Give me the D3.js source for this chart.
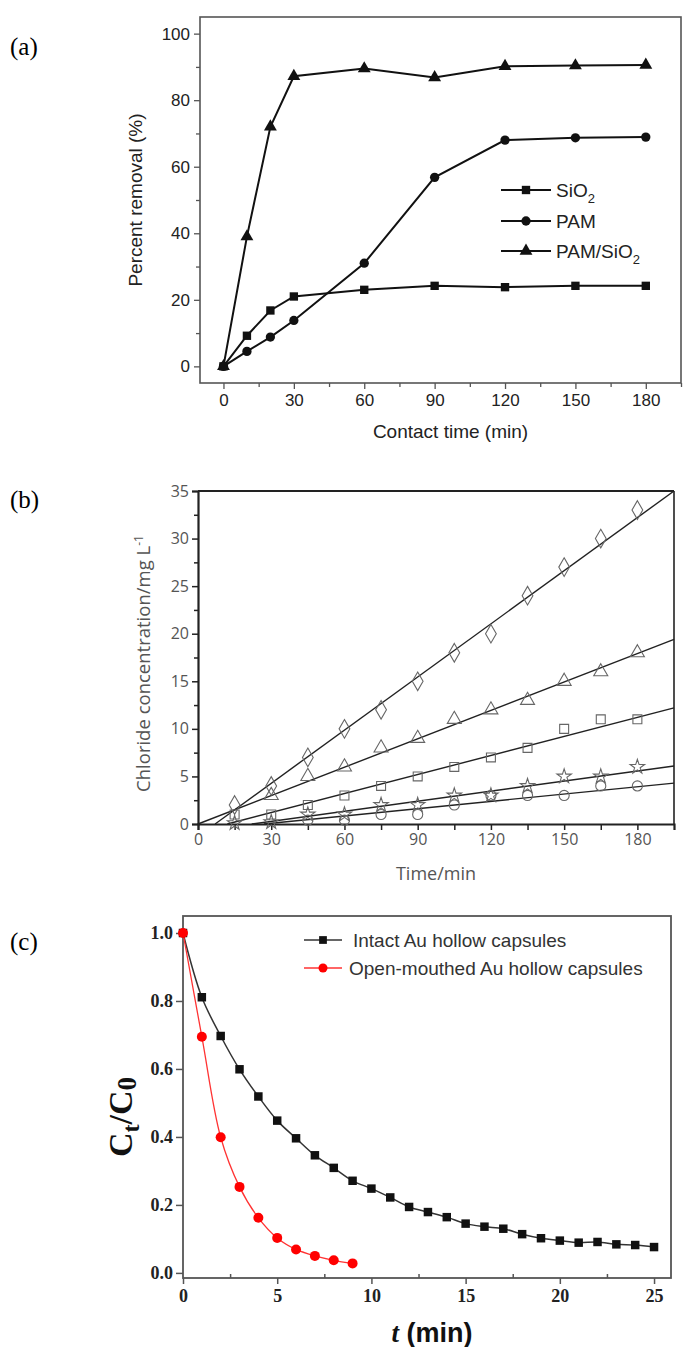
<!DOCTYPE html>
<html>
<head>
<meta charset="utf-8">
<script src="https://cdn.jsdelivr.net/npm/d3@7"></script>
<style>
  body { margin: 0; background: #fff; }
</style>
</head>
<body>
<svg id="fig" width="686" height="1347"></svg>
<script>
// ---------- data: panel (a) ----------
var timeA = [0, 10, 20, 30, 60, 90, 120, 150, 180];
var sio2A = [0, 9.2, 16.8, 21, 23, 24.2, 23.8, 24.2, 24.2];
var pamA = [0, 4.5, 8.8, 13.8, 31, 56.8, 68, 68.7, 68.9];
var pamSio2A = [0, 39, 72, 87.2, 89.5, 86.8, 90.2, 90.4, 90.6];
var xTicksA = [0, 30, 60, 90, 120, 150, 180];
var xMinorA = [15, 45, 75, 105, 135, 165, 195];
var yTicksA = [0, 20, 40, 60, 80, 100];
var yMinorA = [10, 30, 50, 70, 90];

// ---------- data: panel (b) ----------
var timeB = [15, 30, 45, 60, 75, 90, 105, 120, 135, 150, 165, 180];
var diamondB = [2, 4, 7, 10, 12, 15, 18, 20, 24, 27, 30, 33];
var triangleB = [NaN, 3, 5, 6, 8, 9, 11, 12, 13, 15, 16, 18];
var squareB = [1, 1, 2, 3, 4, 5, 6, 7, 8, 10, 11, 11];
var starB = [0.1, 0.2, 1, 1, 2, 2, 3, 3, 4, 5, 5, 6];
var circleB = [NaN, NaN, 0.4, 0.4, 1, 1, 2, 3, 3, 3, 4, 4];
// fitted lines: x where the line leaves zero, value at the right edge (t = 195)
var fitStartB = [7, 0, 12, 22, 27];
var fitEndB = [35, 19.4, 12.2, 6.1, 4.3];
var xTicksB = [0, 30, 60, 90, 120, 150, 180];
var xMinorB = [15, 45, 75, 105, 135, 165];
var yTicksB = [0, 5, 10, 15, 20, 25, 30, 35];
var yMinorB = [2.5, 7.5, 12.5, 17.5, 22.5, 27.5, 32.5];

// ---------- data: panel (c) ----------
var timeIntact = d3.range(0, 26);
var intactC = [1.0, 0.811, 0.697, 0.599, 0.519, 0.448, 0.396, 0.346, 0.309, 0.271,
               0.248, 0.222, 0.194, 0.179, 0.164, 0.145, 0.136, 0.130, 0.114, 0.102,
               0.095, 0.089, 0.091, 0.084, 0.082, 0.076];
var timeOpen = d3.range(0, 10);
var openC = [1.0, 0.695, 0.399, 0.253, 0.162, 0.103, 0.069, 0.050, 0.037, 0.028];
var xTicksC = [0, 5, 10, 15, 20, 25];
var xMinorC = [2.5, 7.5, 12.5, 17.5, 22.5];
var yTicksC = [0, 0.2, 0.4, 0.6, 0.8, 1.0];

var svg = d3.select("#fig");

function pairs(xs, ys) {
  return xs.map(function(x, i) { return [x, ys[i]]; })
           .filter(function(d) { return !isNaN(d[1]); });
}

function frame(g, x, y, color, width) {
  g.append("rect")
      .attr("x", x.range()[0])
      .attr("y", y.range()[1])
      .attr("width", x.range()[1] - x.range()[0])
      .attr("height", y.range()[0] - y.range()[1])
      .attr("fill", "none")
      .attr("stroke", color)
      .attr("stroke-width", width);
}

function noDomain(g) { g.select(".domain").remove(); }

////////// panel (a) //////////
(function() {
  var x = d3.scaleLinear().domain([-10, 195]).range([200, 681]);
  var y = d3.scaleLinear().domain([-5, 105]).range([383, 17]);
  var g = svg.append("g");
  var font = "'Liberation Sans', Arial, sans-serif";

  frame(g, x, y, "#555", 1.6);

  g.append("g")
      .attr("transform", "translate(" + x.range()[0] + ",0)")
      .call(d3.axisLeft(y).tickValues(yTicksA).tickSize(6).tickPadding(4))
      .call(noDomain);
  g.append("g")
      .attr("transform", "translate(" + x.range()[0] + ",0)")
      .call(d3.axisLeft(y).tickValues(yMinorA).tickSize(4).tickFormat(""))
      .call(noDomain);
  g.append("g")
      .attr("transform", "translate(0," + y.range()[0] + ")")
      .call(d3.axisBottom(x).tickValues(xTicksA).tickSize(6).tickPadding(5))
      .call(noDomain);
  g.append("g")
      .attr("transform", "translate(0," + y.range()[0] + ")")
      .call(d3.axisBottom(x).tickValues(xMinorA).tickSize(4).tickFormat(""))
      .call(noDomain);

  g.selectAll(".tick line").attr("stroke", "#555").attr("stroke-width", 1.3);
  g.selectAll(".tick text")
      .attr("font-family", font).attr("font-size", 17).attr("fill", "#222");

  var line = d3.line().x(function(d) { return x(d[0]); }).y(function(d) { return y(d[1]); });
  var series = [
    { v: sio2A, sym: d3.symbolSquare, size: 70, name: ["SiO", "2"] },
    { v: pamA, sym: d3.symbolCircle, size: 68, name: ["PAM", ""] },
    { v: pamSio2A, sym: d3.symbolTriangle, size: 72, name: ["PAM/SiO", "2"] }
  ];

  series.forEach(function(s) {
    var pts = pairs(timeA, s.v);
    g.append("path").attr("d", line(pts))
        .attr("fill", "none").attr("stroke", "#111").attr("stroke-width", 2);
    g.selectAll(null).data(pts).enter().append("path")
        .attr("d", d3.symbol().type(s.sym).size(s.size))
        .attr("transform", function(d) { return "translate(" + x(d[0]) + "," + y(d[1]) + ")"; })
        .attr("fill", "#111");
  });

  // legend
  var lg = g.append("g");
  var rowY = [190, 221, 251];
  series.forEach(function(s, i) {
    lg.append("line").attr("x1", 501).attr("x2", 551).attr("y1", rowY[i]).attr("y2", rowY[i])
        .attr("stroke", "#111").attr("stroke-width", 2);
    lg.append("path").attr("d", d3.symbol().type(s.sym).size(s.size))
        .attr("transform", "translate(526," + rowY[i] + ")").attr("fill", "#111");
    var t = lg.append("text").attr("x", 556).attr("y", rowY[i] + 7)
        .attr("font-family", font).attr("font-size", 19).attr("fill", "#222");
    t.append("tspan").text(s.name[0]);
    if (s.name[1]) t.append("tspan").attr("dy", 6).attr("font-size", 13).text(s.name[1]);
  });

  g.append("text")
      .attr("transform", "translate(142," + ((y.range()[0] + y.range()[1]) / 2) + ") rotate(-90)")
      .attr("text-anchor", "middle")
      .attr("font-family", font).attr("font-size", 19).attr("fill", "#222")
      .text("Percent removal (%)");
  g.append("text")
      .attr("x", (x.range()[0] + x.range()[1]) / 2 + 10).attr("y", 438)
      .attr("text-anchor", "middle")
      .attr("font-family", font).attr("font-size", 19).attr("fill", "#222")
      .text("Contact time (min)");
  g.append("text").attr("x", 10).attr("y", 55)
      .attr("font-family", "'Liberation Serif', 'Times New Roman', serif").attr("font-size", 25)
      .text("(a)");
})();

////////// panel (b) //////////
(function() {
  var x = d3.scaleLinear().domain([0, 195]).range([198, 674]);
  var y = d3.scaleLinear().domain([0, 35]).range([824, 491]);
  var g = svg.append("g");
  var font = "'Open Sans', 'Noto Sans', sans-serif";

  // frame: heavy left, bottom, top; lighter right
  g.append("line").attr("x1", x.range()[0]).attr("x2", x.range()[1])
      .attr("y1", y.range()[1]).attr("y2", y.range()[1]).attr("stroke", "#222").attr("stroke-width", 2.2);
  g.append("line").attr("x1", x.range()[1]).attr("x2", x.range()[1])
      .attr("y1", y.range()[1]).attr("y2", y.range()[0]).attr("stroke", "#222").attr("stroke-width", 1.6);

  g.append("g")
      .attr("transform", "translate(" + x.range()[0] + ",0)")
      .call(d3.axisLeft(y).tickValues(yTicksB).tickSize(6).tickPadding(3));
  g.append("g")
      .attr("transform", "translate(" + x.range()[0] + ",0)")
      .call(d3.axisLeft(y).tickValues(yMinorB).tickSize(4).tickFormat(""))
      .call(noDomain);
  g.append("g")
      .attr("transform", "translate(0," + y.range()[0] + ")")
      .call(d3.axisBottom(x).tickValues(xTicksB).tickSize(6).tickPadding(4));
  g.append("g")
      .attr("transform", "translate(0," + y.range()[0] + ")")
      .call(d3.axisBottom(x).tickValues(xMinorB).tickSize(6).tickFormat(""))
      .call(noDomain);
  g.selectAll(".domain").attr("stroke", "#222").attr("stroke-width", 2.2);
  g.selectAll(".tick line").attr("stroke", "#222").attr("stroke-width", 1.5);
  g.selectAll(".tick text")
      .attr("font-family", font).attr("font-size", 16).attr("fill", "#555");

  // fitted lines
  fitStartB.forEach(function(x0, i) {
    g.append("line")
        .attr("x1", x(x0)).attr("y1", y(0))
        .attr("x2", x(195)).attr("y2", y(fitEndB[i]))
        .attr("stroke", "#222").attr("stroke-width", 1.4);
  });

  var sets = [
    { v: diamondB, sym: d3.symbolDiamond, size: 100 },
    { v: triangleB, sym: d3.symbolTriangle, size: 85 },
    { v: squareB, sym: d3.symbolSquare, size: 80 },
    { v: starB, sym: d3.symbolStar, size: 65 },
    { v: circleB, sym: d3.symbolCircle, size: 80 }
  ];
  sets.forEach(function(s) {
    g.selectAll(null).data(pairs(timeB, s.v)).enter().append("path")
        .attr("d", d3.symbol().type(s.sym).size(s.size))
        .attr("transform", function(d) { return "translate(" + x(d[0]) + "," + y(d[1]) + ")"; })
        .attr("fill", "none").attr("stroke", "#666").attr("stroke-width", 1.1);
  });

  var yt = g.append("text")
      .attr("transform", "translate(150," + ((y.range()[0] + y.range()[1]) / 2 + 6) + ") rotate(-90)")
      .attr("text-anchor", "middle")
      .attr("font-family", font).attr("font-size", 18.5).attr("fill", "#555");
  yt.append("tspan").text("Chloride concentration/mg L");
  yt.append("tspan").attr("dy", -7).attr("font-size", 12).text("-1");

  g.append("text")
      .attr("x", (x.range()[0] + x.range()[1]) / 2).attr("y", 880)
      .attr("text-anchor", "middle")
      .attr("font-family", font).attr("font-size", 18).attr("fill", "#555")
      .text("Time/min");
  g.append("text").attr("x", 10).attr("y", 508)
      .attr("font-family", "'Liberation Serif', 'Times New Roman', serif").attr("font-size", 25)
      .text("(b)");
})();

////////// panel (c) //////////
(function() {
  var x = d3.scaleLinear().domain([0, 25.9]).range([183, 671]);
  var y = d3.scaleLinear().domain([-0.015, 1.05]).range([1278, 916]);
  var g = svg.append("g");
  var serif = "'Liberation Serif', 'Times New Roman', serif";
  var sans = "'Liberation Sans', Arial, sans-serif";

  frame(g, x, y, "#555", 1.8);

  g.append("g")
      .attr("transform", "translate(" + x.range()[0] + ",0)")
      .call(d3.axisLeft(y).tickValues(yTicksC).tickSize(7).tickPadding(3).tickFormat(d3.format(".1f")))
      .call(noDomain);
  g.append("g")
      .attr("transform", "translate(0," + y.range()[0] + ")")
      .call(d3.axisBottom(x).tickValues(xTicksC).tickSize(6).tickPadding(5))
      .call(noDomain);
  g.append("g")
      .attr("transform", "translate(0," + y.range()[0] + ")")
      .call(d3.axisBottom(x).tickValues(xMinorC).tickSize(-4).tickFormat(""))
      .call(noDomain);
  g.selectAll(".tick line").attr("stroke", "#555").attr("stroke-width", 1.5);
  g.selectAll(".tick text")
      .attr("font-family", serif).attr("font-weight", "bold").attr("font-size", 18).attr("fill", "#222");

  var curve = d3.line().curve(d3.curveCatmullRom)
      .x(function(d) { return x(d[0]); }).y(function(d) { return y(d[1]); });

  var intact = pairs(timeIntact, intactC);
  var open = pairs(timeOpen, openC);

  g.append("path").attr("d", curve(intact))
      .attr("fill", "none").attr("stroke", "#333").attr("stroke-width", 1.5);
  g.append("path").attr("d", curve(open))
      .attr("fill", "none").attr("stroke", "#f33").attr("stroke-width", 1.3);

  g.selectAll(null).data(intact).enter().append("path")
      .attr("d", d3.symbol().type(d3.symbolSquare).size(72))
      .attr("transform", function(d) { return "translate(" + x(d[0]) + "," + y(d[1]) + ")"; })
      .attr("fill", "#111");
  g.selectAll(null).data(open).enter().append("circle")
      .attr("cx", function(d) { return x(d[0]); })
      .attr("cy", function(d) { return y(d[1]); })
      .attr("r", 5).attr("fill", "#f00");

  // legend
  var lg = g.append("g");
  lg.append("line").attr("x1", 304).attr("x2", 342).attr("y1", 940).attr("y2", 940)
      .attr("stroke", "#333").attr("stroke-width", 1.5);
  lg.append("path").attr("d", d3.symbol().type(d3.symbolSquare).size(60))
      .attr("transform", "translate(323,940)").attr("fill", "#111");
  lg.append("text").attr("x", 353).attr("y", 947)
      .attr("font-family", sans).attr("font-size", 19).attr("fill", "#333")
      .text("Intact Au hollow capsules");
  lg.append("line").attr("x1", 304).attr("x2", 342).attr("y1", 968).attr("y2", 968)
      .attr("stroke", "#f33").attr("stroke-width", 1.3);
  lg.append("circle").attr("cx", 323).attr("cy", 968).attr("r", 4.5).attr("fill", "#f00");
  lg.append("text").attr("x", 349).attr("y", 975)
      .attr("font-family", sans).attr("font-size", 19).attr("fill", "#333")
      .text("Open-mouthed Au hollow capsules");

  var yt = g.append("text")
      .attr("transform", "translate(132," + ((y.range()[0] + y.range()[1]) / 2 + 20) + ") rotate(-90)")
      .attr("text-anchor", "middle")
      .attr("font-family", serif).attr("font-weight", "bold").attr("font-size", 34).attr("fill", "#111");
  yt.append("tspan").text("C");
  yt.append("tspan").attr("dy", 7).attr("font-size", 24).text("t");
  yt.append("tspan").attr("dy", -7).text("/C");
  yt.append("tspan").attr("dy", 4).attr("font-size", 27).text("0");

  var xt = g.append("text")
      .attr("x", (x.range()[0] + x.range()[1]) / 2 + 5).attr("y", 1342)
      .attr("text-anchor", "middle")
      .attr("font-size", 27).attr("fill", "#111").attr("font-weight", "bold");
  xt.append("tspan").attr("font-family", serif).attr("font-style", "italic").text("t");
  xt.append("tspan").attr("font-family", sans).text(" (min)");

  g.append("text").attr("x", 10).attr("y", 950)
      .attr("font-family", serif).attr("font-size", 25)
      .text("(c)");
})();
</script>
</body>
</html>
